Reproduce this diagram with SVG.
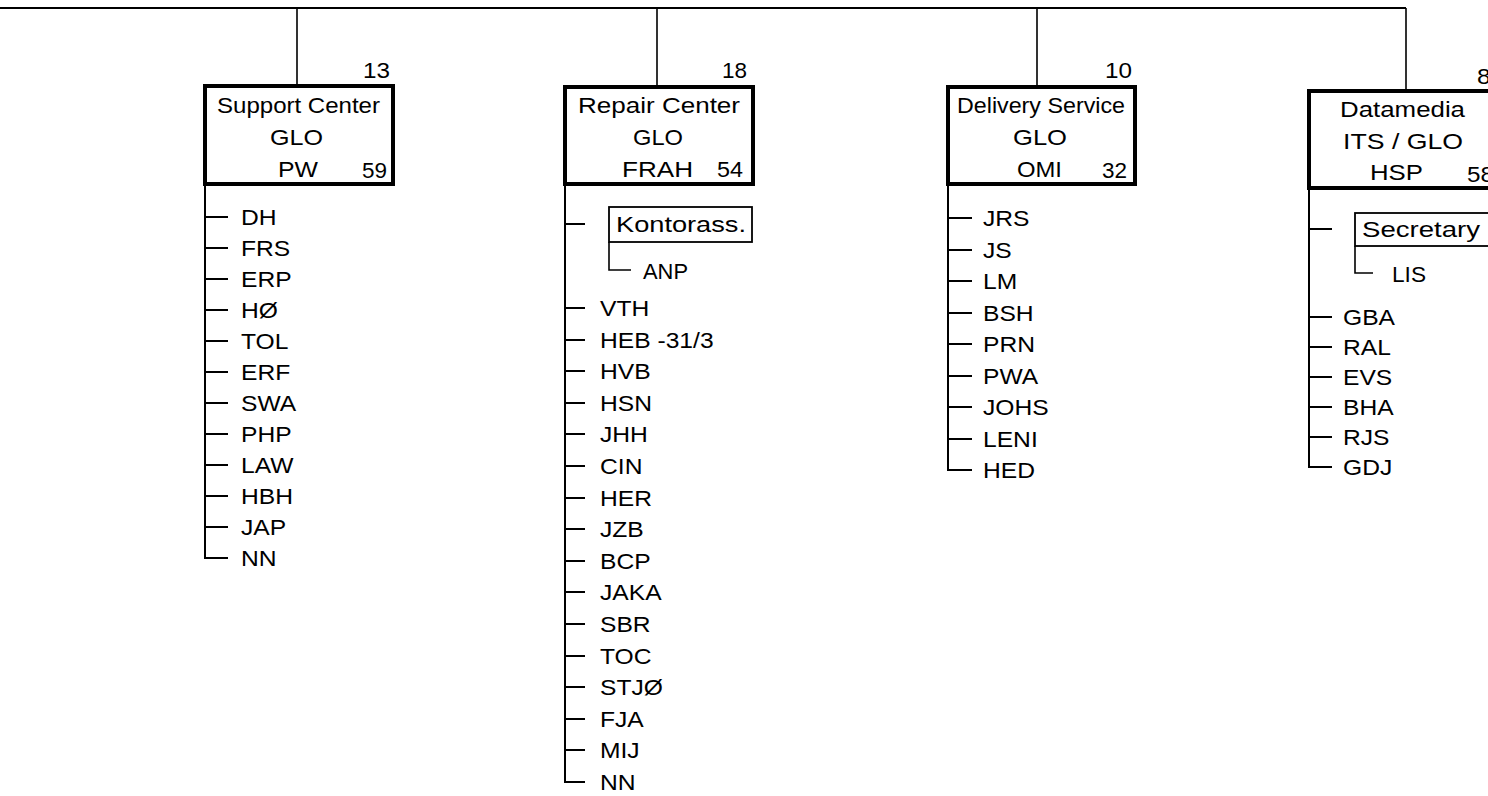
<svg xmlns="http://www.w3.org/2000/svg" width="1488" height="796" viewBox="0 0 1488 796">
<style>
.t{font-family:"Liberation Sans",Arial,Helvetica,sans-serif;font-size:22px;fill:#000}
.ln{stroke:#000;stroke-width:2;fill:none}
.dr{stroke:#000;stroke-width:1.6;fill:none}
.box{fill:#fff;stroke:#000;stroke-width:4}
.sbox{fill:#fff;stroke:#000;stroke-width:1.8}
</style>
<rect width="1488" height="796" fill="#fff"/>
<g id="connectors">
<path class="ln" d="M0,8H1406"/>
<path class="dr" d="M297,8V86M657,8V87M1037,8V87M1406,8V90"/>
<path class="ln" d="M205,186V558H228M205,217H228M205,248H228M205,279H228M205,310H228M205,341H228M205,372H228M205,403H228M205,434H228M205,465H228M205,496H228M205,527H228"/>
<path class="ln" d="M565,186V782H585M565,224H585M565,308H585M565,340H585M565,371H585M565,403H585M565,434H585M565,466H585M565,498H585M565,529H585M565,561H585M565,592H585M565,624H585M565,656H585M565,687H585M565,719H585M565,750H585"/>
<path class="dr" d="M609,242V270H631"/>
<path class="ln" d="M948,185V470H972M948,218H972M948,250H972M948,281H972M948,313H972M948,344H972M948,376H972M948,407H972M948,439H972"/>
<path class="ln" d="M1309,190V467H1332M1309,229H1332M1309,317H1332M1309,347H1332M1309,377H1332M1309,407H1332M1309,437H1332"/>
<path class="dr" d="M1355,246V273H1373"/>
</g>
<g id="support-center">
<rect class="box" x="205" y="86" width="188" height="98"/>
<text class="t" x="363" y="78" textLength="27" lengthAdjust="spacingAndGlyphs">13</text>
<text class="t" x="217" y="113" textLength="163" lengthAdjust="spacingAndGlyphs">Support Center</text>
<text class="t" x="270" y="145" textLength="53" lengthAdjust="spacingAndGlyphs">GLO</text>
<text class="t" x="278" y="177" textLength="40" lengthAdjust="spacingAndGlyphs">PW</text>
<text class="t" x="362" y="178" textLength="25" lengthAdjust="spacingAndGlyphs">59</text>
<g transform="translate(241,0) scale(1.12,1)">
<text class="t" x="0" y="225">DH</text>
<text class="t" x="0" y="256">FRS</text>
<text class="t" x="0" y="287">ERP</text>
<text class="t" x="0" y="318">HØ</text>
<text class="t" x="0" y="349">TOL</text>
<text class="t" x="0" y="380">ERF</text>
<text class="t" x="0" y="411">SWA</text>
<text class="t" x="0" y="442">PHP</text>
<text class="t" x="0" y="473">LAW</text>
<text class="t" x="0" y="504">HBH</text>
<text class="t" x="0" y="535">JAP</text>
<text class="t" x="0" y="566">NN</text>
</g>
</g>
<g id="repair-center">
<rect class="box" x="565" y="87" width="188" height="97"/>
<text class="t" x="722" y="78" textLength="25" lengthAdjust="spacingAndGlyphs">18</text>
<text class="t" x="578" y="113" textLength="162" lengthAdjust="spacingAndGlyphs">Repair Center</text>
<text class="t" x="633" y="145" textLength="50" lengthAdjust="spacingAndGlyphs">GLO</text>
<text class="t" x="622" y="177" textLength="71" lengthAdjust="spacingAndGlyphs">FRAH</text>
<text class="t" x="717" y="177" textLength="26" lengthAdjust="spacingAndGlyphs">54</text>
<g id="kontorass">
<rect class="sbox" x="609" y="207" width="143" height="35"/>
<text class="t" x="616" y="232" textLength="130" lengthAdjust="spacingAndGlyphs">Kontorass.</text>
</g>
<text class="t" x="643" y="279" textLength="45" lengthAdjust="spacingAndGlyphs">ANP</text>
<g transform="translate(600,0) scale(1.12,1)">
<text class="t" x="0" y="316">VTH</text>
<text class="t" x="0" y="348">HEB -31/3</text>
<text class="t" x="0" y="379">HVB</text>
<text class="t" x="0" y="411">HSN</text>
<text class="t" x="0" y="442">JHH</text>
<text class="t" x="0" y="474">CIN</text>
<text class="t" x="0" y="506">HER</text>
<text class="t" x="0" y="537">JZB</text>
<text class="t" x="0" y="569">BCP</text>
<text class="t" x="0" y="600">JAKA</text>
<text class="t" x="0" y="632">SBR</text>
<text class="t" x="0" y="664">TOC</text>
<text class="t" x="0" y="695">STJØ</text>
<text class="t" x="0" y="727">FJA</text>
<text class="t" x="0" y="758">MIJ</text>
<text class="t" x="0" y="790">NN</text>
</g>
</g>
<g id="delivery-service">
<rect class="box" x="948" y="87" width="187" height="97"/>
<text class="t" x="1105" y="78" textLength="27" lengthAdjust="spacingAndGlyphs">10</text>
<text class="t" x="957" y="113" textLength="168" lengthAdjust="spacingAndGlyphs">Delivery Service</text>
<text class="t" x="1013" y="145" textLength="54" lengthAdjust="spacingAndGlyphs">GLO</text>
<text class="t" x="1017" y="177" textLength="45" lengthAdjust="spacingAndGlyphs">OMI</text>
<text class="t" x="1102" y="178" textLength="25" lengthAdjust="spacingAndGlyphs">32</text>
<g transform="translate(983,0) scale(1.12,1)">
<text class="t" x="0" y="226">JRS</text>
<text class="t" x="0" y="258">JS</text>
<text class="t" x="0" y="289">LM</text>
<text class="t" x="0" y="321">BSH</text>
<text class="t" x="0" y="352">PRN</text>
<text class="t" x="0" y="384">PWA</text>
<text class="t" x="0" y="415">JOHS</text>
<text class="t" x="0" y="447">LENI</text>
<text class="t" x="0" y="478">HED</text>
</g>
</g>
<g id="datamedia">
<rect class="box" x="1309" y="91" width="200" height="97"/>
<text class="t" x="1477" y="84" transform="translate(1477,0) scale(1.12,1) translate(-1477,0)">8</text>
<text class="t" x="1340" y="117" textLength="125" lengthAdjust="spacingAndGlyphs">Datamedia</text>
<text class="t" x="1343" y="149" textLength="120" lengthAdjust="spacingAndGlyphs">ITS / GLO</text>
<text class="t" x="1370" y="180" textLength="53" lengthAdjust="spacingAndGlyphs">HSP</text>
<text class="t" x="1467" y="182" textLength="27" lengthAdjust="spacingAndGlyphs">58</text>
<g id="secretary">
<rect class="sbox" x="1355" y="213" width="160" height="33"/>
<text class="t" x="1362" y="237" textLength="118" lengthAdjust="spacingAndGlyphs">Secretary</text>
</g>
<text class="t" x="1392" y="282" textLength="34" lengthAdjust="spacingAndGlyphs">LIS</text>
<g transform="translate(1343,0) scale(1.12,1)">
<text class="t" x="0" y="325">GBA</text>
<text class="t" x="0" y="355">RAL</text>
<text class="t" x="0" y="385">EVS</text>
<text class="t" x="0" y="415">BHA</text>
<text class="t" x="0" y="445">RJS</text>
<text class="t" x="0" y="475">GDJ</text>
</g>
</g>
</svg>
